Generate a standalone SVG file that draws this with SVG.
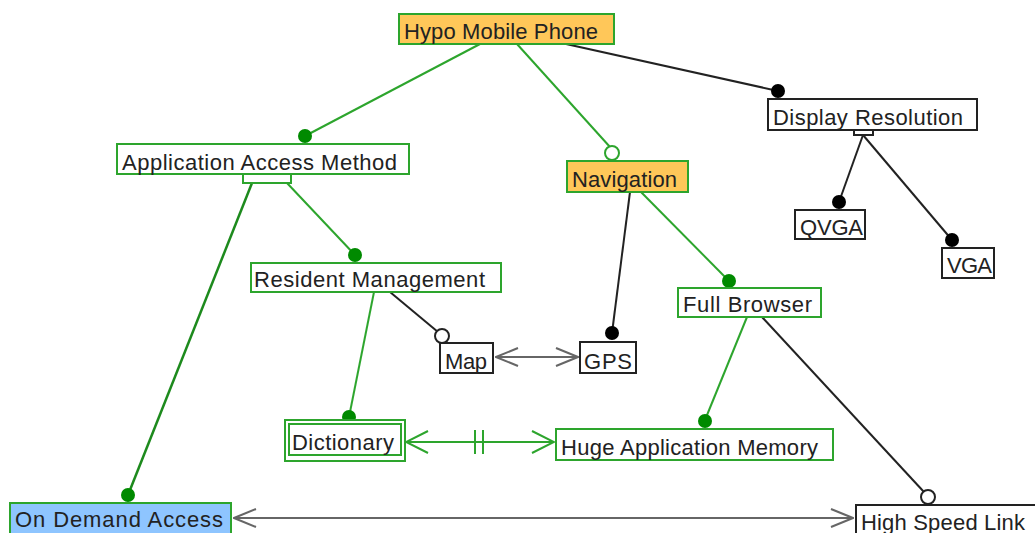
<svg xmlns="http://www.w3.org/2000/svg" width="1035" height="533" viewBox="0 0 1035 533">
  <style>
    text { font-family: "Liberation Sans", Arial, sans-serif; font-size: 22px; fill: #222; }
    .gbox { fill: #fff; stroke: #2da52d; stroke-width: 2; }
    .kbox { fill: #fff; stroke: #222; stroke-width: 2; }
    .orange { fill: #ffc759; }
    .blue { fill: #8ec5ff; }
    .gline { stroke: #2da52d; stroke-width: 2; fill: none; }
    .dgline { stroke: #1d8a1d; stroke-width: 2.5; fill: none; }
    .kline { stroke: #222; stroke-width: 2; fill: none; }
    .aline { stroke: #666; stroke-width: 2; fill: none; }
    .gdot { fill: #008a00; }
    .kdot { fill: #000; }
    .gopen { fill: #fff; stroke: #2da52d; stroke-width: 2; }
    .kopen { fill: #fff; stroke: #222; stroke-width: 2; }
  </style>
  <defs>
    <marker id="openArrowGray" viewBox="0 0 24 24" refX="23" refY="12" markerWidth="24" markerHeight="24" markerUnits="userSpaceOnUse" orient="auto-start-reverse">
      <path d="M1,3 L23,12 L1,21" fill="none" stroke="#666" stroke-width="2"/>
    </marker>
    <marker id="openArrowGreen" viewBox="0 0 24 24" refX="23" refY="12" markerWidth="24" markerHeight="24" markerUnits="userSpaceOnUse" orient="auto-start-reverse">
      <path d="M1,1 L23,12 L1,23" fill="none" stroke="#2da52d" stroke-width="2"/>
    </marker>
  </defs>
  <rect width="1035" height="533" fill="#fff"/>

  <!-- connectors -->
  <g id="connectors">
    <line class="gline" x1="480" y1="44" x2="305" y2="136"/>
    <line class="gline" x1="517" y1="44" x2="610" y2="147"/>
    <line class="kline" x1="566" y1="44" x2="778" y2="91"/>
    <line class="kline" x1="863" y1="135" x2="839" y2="202"/>
    <line class="kline" x1="863" y1="135" x2="952" y2="240"/>
    <line class="gline" x1="641" y1="192" x2="729" y2="281"/>
    <line class="kline" x1="630" y1="192" x2="612" y2="333"/>
    <line class="gline" x1="287" y1="183" x2="355" y2="255"/>
    <line class="dgline" x1="252" y1="183" x2="128" y2="495"/>
    <line class="kline" x1="390" y1="292" x2="438" y2="332"/>
    <line class="gline" x1="374" y1="292" x2="349" y2="417"/>
    <line class="gline" x1="747" y1="317" x2="705" y2="420"/>
    <line class="kline" x1="762" y1="317" x2="924" y2="492"/>
    <line class="aline" x1="496" y1="357" x2="578" y2="357" marker-start="url(#openArrowGray)" marker-end="url(#openArrowGray)"/>
    <line class="gline" x1="406" y1="442" x2="554" y2="442" marker-start="url(#openArrowGreen)" marker-end="url(#openArrowGreen)"/>
    <line class="gline" x1="475" y1="430" x2="475" y2="454"/>
    <line class="gline" x1="483" y1="430" x2="483" y2="454"/>
    <line class="aline" x1="234" y1="518" x2="853" y2="518" marker-start="url(#openArrowGray)" marker-end="url(#openArrowGray)"/>

    <circle class="gdot" cx="305" cy="136" r="7"/>
    <circle class="gopen" cx="612" cy="153" r="7"/>
    <circle class="kdot" cx="778" cy="91" r="7"/>
    <circle class="kdot" cx="839" cy="202" r="7"/>
    <circle class="kdot" cx="952" cy="240" r="7"/>
    <circle class="gdot" cx="729" cy="281" r="7"/>
    <circle class="kdot" cx="612" cy="333" r="7"/>
    <circle class="gdot" cx="355" cy="255" r="7"/>
    <circle class="gdot" cx="128" cy="495" r="7"/>
    <circle class="kopen" cx="442" cy="336" r="7"/>
    <circle class="gdot" cx="349" cy="417" r="7"/>
    <circle class="gdot" cx="705" cy="421" r="7"/>
    <circle class="kopen" cx="928" cy="497" r="7"/>
  </g>

  <!-- feature nodes -->
  <g id="hypo-mobile-phone">
    <rect class="gbox orange" x="399" y="14" width="215" height="30"/>
    <text x="404" y="39" textLength="194">Hypo Mobile Phone</text>
  </g>
  <g id="application-access-method">
    <rect class="gbox" x="117" y="144" width="292" height="30"/>
    <rect class="gbox" x="243" y="174" width="48" height="9"/>
    <text x="122" y="170" textLength="275">Application Access Method</text>
  </g>
  <g id="navigation">
    <rect class="gbox orange" x="567" y="161" width="121" height="31"/>
    <text x="572" y="187" textLength="105">Navigation</text>
  </g>
  <g id="display-resolution">
    <rect class="kbox" x="768" y="99" width="209" height="31"/>
    <rect class="kbox" x="854" y="130" width="19" height="5" stroke-width="1.5"/>
    <text x="773" y="125" textLength="190">Display Resolution</text>
  </g>
  <g id="qvga">
    <rect class="kbox" x="795" y="210" width="70" height="29"/>
    <text x="800" y="235" textLength="63">QVGA</text>
  </g>
  <g id="vga">
    <rect class="kbox" x="942" y="248" width="52" height="30"/>
    <text x="947" y="273" textLength="45">VGA</text>
  </g>
  <g id="resident-management">
    <rect class="gbox" x="251" y="263" width="250" height="29"/>
    <text x="254" y="287" textLength="231">Resident Management</text>
  </g>
  <g id="full-browser">
    <rect class="gbox" x="678" y="288" width="143" height="29"/>
    <text x="683" y="312" textLength="129">Full Browser</text>
  </g>
  <g id="map">
    <rect class="kbox" x="440" y="343" width="53" height="30"/>
    <text x="445" y="369" textLength="42">Map</text>
  </g>
  <g id="gps">
    <rect class="kbox" x="580" y="342" width="56" height="31"/>
    <text x="584" y="369" textLength="48">GPS</text>
  </g>
  <g id="dictionary">
    <rect class="gbox" x="285" y="420" width="120" height="41"/>
    <rect class="gbox" x="289" y="424" width="112" height="31"/>
    <text x="292" y="450" textLength="102">Dictionary</text>
  </g>
  <g id="huge-application-memory">
    <rect class="gbox" x="556" y="429" width="277" height="31"/>
    <text x="561" y="455" textLength="257">Huge Application Memory</text>
  </g>
  <g id="on-demand-access">
    <rect class="gbox blue" x="10" y="503" width="221" height="36"/>
    <text x="15" y="527" textLength="208">On Demand Access</text>
  </g>
  <g id="high-speed-link">
    <rect class="kbox" x="856" y="505" width="190" height="36"/>
    <text x="861" y="530" textLength="164">High Speed Link</text>
  </g>
</svg>
